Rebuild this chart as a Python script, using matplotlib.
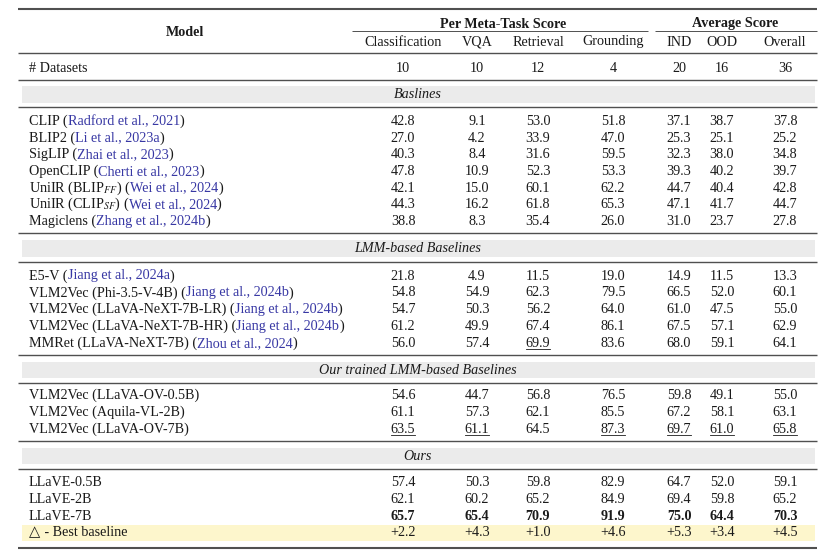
import matplotlib
matplotlib.use('Agg')
import matplotlib.pyplot as plt
from matplotlib.font_manager import FontProperties

plt.rcParams['font.family'] = ['Liberation Serif', 'DejaVu Serif']
plt.rcParams['mathtext.fontset'] = 'stix'

# ---------------- data ----------------
col_groups = ['Per Meta-Task Score', 'Average Score']
columns = ['Classification', 'VQA', 'Retrieval', 'Grounding', 'IND', 'OOD', 'Overall']
n_datasets = [10, 10, 12, 4, 20, 16, 36]

section_titles = ['Baslines', 'LMM-based Baselines', 'Our trained LMM-based Baselines', 'Ours']

baseline_models = ['CLIP', 'BLIP2', 'SigLIP', 'OpenCLIP', 'UniIR (BLIP$_{FF}$)',
                   'UniIR (CLIP$_{SF}$)', 'Magiclens']
baseline_cites = ['Radford et al., 2021', 'Li et al., 2023a', 'Zhai et al., 2023',
                  'Cherti et al., 2023', 'Wei et al., 2024', 'Wei et al., 2024',
                  'Zhang et al., 2024b']
baseline_scores = [
    [42.8, 9.1, 53.0, 51.8, 37.1, 38.7, 37.8],
    [27.0, 4.2, 33.9, 47.0, 25.3, 25.1, 25.2],
    [40.3, 8.4, 31.6, 59.5, 32.3, 38.0, 34.8],
    [47.8, 10.9, 52.3, 53.3, 39.3, 40.2, 39.7],
    [42.1, 15.0, 60.1, 62.2, 44.7, 40.4, 42.8],
    [44.3, 16.2, 61.8, 65.3, 47.1, 41.7, 44.7],
    [38.8, 8.3, 35.4, 26.0, 31.0, 23.7, 27.8],
]

lmm_models = ['E5-V', 'VLM2Vec (Phi-3.5-V-4B)', 'VLM2Vec (LLaVA-NeXT-7B-LR)',
              'VLM2Vec (LLaVA-NeXT-7B-HR)', 'MMRet (LLaVA-NeXT-7B)']
lmm_cites = ['Jiang et al., 2024a', 'Jiang et al., 2024b', 'Jiang et al., 2024b',
             'Jiang et al., 2024b', 'Zhou et al., 2024']
lmm_scores = [
    [21.8, 4.9, 11.5, 19.0, 14.9, 11.5, 13.3],
    [54.8, 54.9, 62.3, 79.5, 66.5, 52.0, 60.1],
    [54.7, 50.3, 56.2, 64.0, 61.0, 47.5, 55.0],
    [61.2, 49.9, 67.4, 86.1, 67.5, 57.1, 62.9],
    [56.0, 57.4, 69.9, 83.6, 68.0, 59.1, 64.1],
]

trained_models = ['VLM2Vec (LLaVA-OV-0.5B)', 'VLM2Vec (Aquila-VL-2B)', 'VLM2Vec (LLaVA-OV-7B)']
trained_cites = ['', '', '']
trained_scores = [
    [54.6, 44.7, 56.8, 76.5, 59.8, 49.1, 55.0],
    [61.1, 57.3, 62.1, 85.5, 67.2, 58.1, 63.1],
    [63.5, 61.1, 64.5, 87.3, 69.7, 61.0, 65.8],
]

ours_models = ['LLaVE-0.5B', 'LLaVE-2B', 'LLaVE-7B']
ours_cites = ['', '', '']
ours_scores = [
    [57.4, 50.3, 59.8, 82.9, 64.7, 52.0, 59.1],
    [62.1, 60.2, 65.2, 84.9, 69.4, 59.8, 65.2],
    [65.7, 65.4, 70.9, 91.9, 75.0, 64.4, 70.3],
]

delta_symbol = '△'
delta_label = ' - Best baseline'
delta_values = [2.2, 4.3, 1.0, 4.6, 5.3, 3.4, 4.5]

# second-best (underlined) cells: (section, row, column)
underlined = [(1, 4, 2), (2, 2, 0), (2, 2, 1), (2, 2, 3), (2, 2, 4), (2, 2, 5), (2, 2, 6)]
# best (bold) rows: (section, row)
bold_rows = [(3, 2)]

# ---------------- layout ----------------
W, H = 831, 558
FS = 10.2
BLACK = '#1a1a1a'
BLUE = '#3838a4'
RULE = '#505050'
GRAY = '#ebebeb'
YELLOW = '#fdf6cc'

X_LEFT, X_RIGHT = 18, 817
TEXT_X = 29
COL_X = [403, 477, 538, 613, 679, 722, 785]
MID_X = (X_LEFT + X_RIGHT) / 2

fig = plt.figure(figsize=(W / 100, H / 100), dpi=100)
ax = fig.add_axes([0, 0, 1, 1])
ax.set_xlim(0, W)
ax.set_ylim(H, 0)
ax.axis('off')
renderer = fig.canvas.get_renderer()


def advance(s, weight='normal', family=None, size=None):
    prop = FontProperties(family=family or plt.rcParams['font.family'], size=size or FS, weight=weight)
    ism = '$' in s
    w1, _, _ = renderer.get_text_width_height_descent('|' + s + '|', prop, ismath=ism)
    w0, _, _ = renderer.get_text_width_height_descent('||', prop, ismath=False)
    return w1 - w0


def segments(x, y, parts, weight='normal'):
    for s, c in parts:
        if not s:
            continue
        ax.text(x, y, s, color=c, fontsize=FS, ha='left', va='baseline', weight=weight)
        x += advance(s, weight=weight)


def hrule(y, lw=1.0, x0=X_LEFT, x1=X_RIGHT):
    ax.plot([x0, x1], [y, y], color=RULE, lw=lw, solid_capstyle='butt')


def band(y0, y1, color):
    ax.fill_between([X_LEFT + 4, X_RIGHT - 2], y0, y1, color=color, lw=0, zorder=0)


# header
hrule(9, lw=1.5)
ax.text(185, 36.5, 'Model', fontsize=FS, weight='bold', ha='center', va='baseline', color=BLACK)
ax.text(503, 27.5, col_groups[0], fontsize=FS, weight='bold', ha='center', va='baseline', color=BLACK)
ax.text(735, 27.5, col_groups[1], fontsize=FS, weight='bold', ha='center', va='baseline', color=BLACK)
hrule(31, lw=0.7, x0=352, x1=648)
hrule(31, lw=0.7, x0=655, x1=X_RIGHT)
for cx, name in zip(COL_X, columns):
    ax.text(cx, 45.5, name, fontsize=FS, ha='center', va='baseline', color=BLACK)
hrule(53, lw=1.0)
ax.text(TEXT_X, 71.5, '# Datasets', fontsize=FS, ha='left', va='baseline', color=BLACK)
for cx, n in zip(COL_X, n_datasets):
    ax.text(cx, 71.5, str(n), fontsize=FS, ha='center', va='baseline', color=BLACK)
hrule(80, lw=1.0)

sections = [
    (baseline_models, baseline_cites, baseline_scores),
    (lmm_models, lmm_cites, lmm_scores),
    (trained_models, trained_cites, trained_scores),
    (ours_models, ours_cites, ours_scores),
]
band_y = [(86, 103), (240, 257), (362, 378), (448, 464)]
label_y = [98.5, 252, 373.5, 460.5]
rule_after_band = [107, 262, 383, 469]
first_row = [125, 279.5, 399.3, 486]
row_step = [16.65, 16.85, 16.85, 16.8]
rule_after_rows = [233, 355, 441, None]

for si, (models, cites, scores) in enumerate(sections):
    band(band_y[si][0], band_y[si][1], GRAY)
    ax.text(MID_X, label_y[si], section_titles[si], fontsize=FS, style='italic',
            ha='center', va='baseline', color=BLACK)
    hrule(rule_after_band[si], lw=1.0)
    for ri, (m, c, vals) in enumerate(zip(models, cites, scores)):
        y = first_row[si] + ri * row_step[si]
        if c:
            segments(TEXT_X, y, [(m + ' (', BLACK), (c, BLUE), (')', BLACK)])
        else:
            segments(TEXT_X, y, [(m, BLACK)])
        wt = 'bold' if (si, ri) in bold_rows else 'normal'
        for ci, v in enumerate(vals):
            s = f'{v:.1f}'
            ax.text(COL_X[ci], y, s, fontsize=FS, weight=wt, ha='center', va='baseline', color=BLACK)
            if (si, ri, ci) in underlined:
                w = advance(s)
                ax.plot([COL_X[ci] - w / 2, COL_X[ci] + w / 2], [y + 2.2, y + 2.2],
                        color=BLACK, lw=0.6)
    if rule_after_rows[si] is not None:
        hrule(rule_after_rows[si], lw=1.0)

# delta row
dy = first_row[3] + 3 * row_step[3]
band(525, 541, YELLOW)
ax.text(TEXT_X, dy, delta_symbol, fontsize=10.5, family='DejaVu Sans', ha='left', va='baseline',
        color=BLACK)
tri_w = advance(delta_symbol, family='DejaVu Sans', size=10.5)
ax.text(TEXT_X + tri_w + 1, dy, delta_label, fontsize=FS, ha='left', va='baseline', color=BLACK)
for cx, v in zip(COL_X, delta_values):
    ax.text(cx, dy, f'+{v:.1f}', fontsize=FS, ha='center', va='baseline', color=BLACK)
hrule(548, lw=1.5)

fig.savefig('out.png', dpi=100)
